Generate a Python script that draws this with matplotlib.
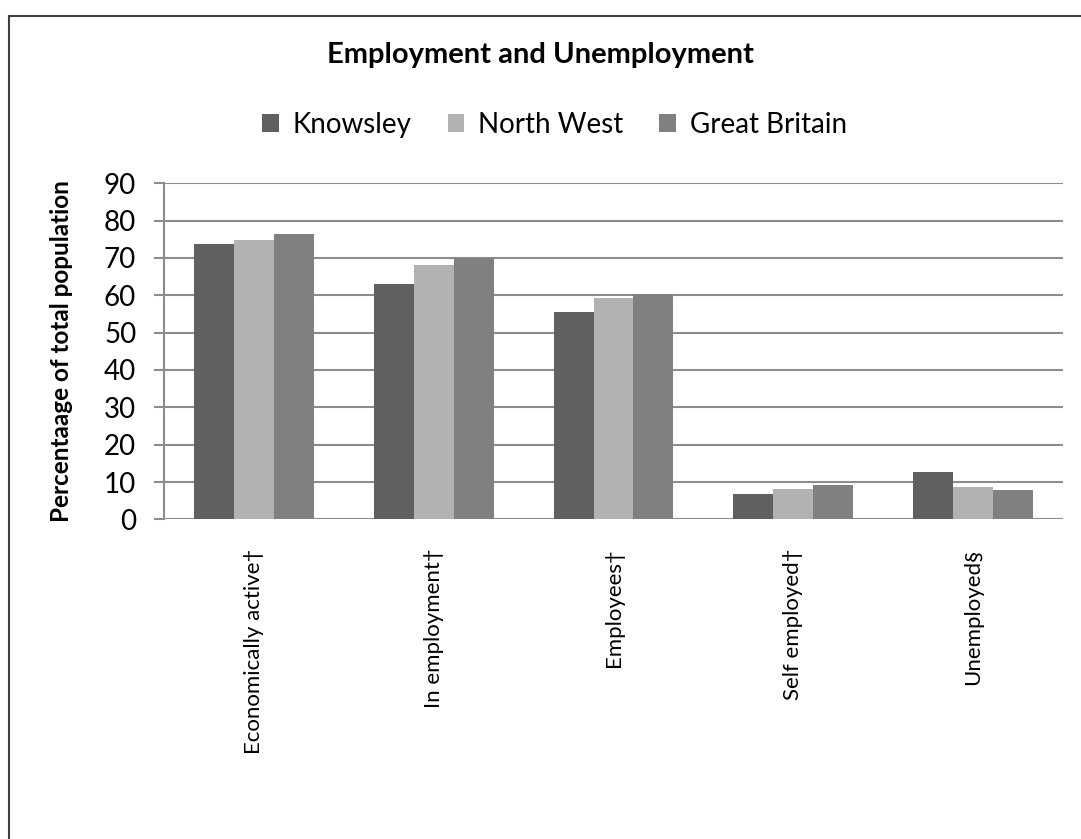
import numpy as np
import matplotlib.pyplot as plt
from matplotlib.patches import Rectangle

categories = ["Economically active†", "In employment†", "Employees†", "Self employed†", "Unemployed§"]
series_names = ["Knowsley", "North West", "Great Britain"]
knowsley = [73.8, 63.1, 55.6, 6.8, 12.6]
north_west = [74.8, 68.1, 59.3, 8.1, 8.7]
great_britain = [76.4, 70.0, 60.3, 9.2, 7.9]
colors = ["#606060", "#b2b2b2", "#808080"]

plt.rcParams['font.family'] = ['Lato', 'DejaVu Sans']

fig = plt.figure(figsize=(10.81, 8.39), dpi=100)
ax = fig.add_axes([0.1517, 0.381, 0.8317, 0.4005])

x = np.arange(len(categories))
w = 0.222
for i, (vals, name) in enumerate(zip([knowsley, north_west, great_britain], series_names)):
    ax.bar(x + (i - 1) * w, vals, width=w, color=colors[i], label=name, zorder=3)

ax.set_xlim(-0.5, len(categories) - 0.5)
ax.set_ylim(0, 90)
ax.set_yticks(range(0, 91, 10))
ax.yaxis.grid(True, color="#8c8c8c", linewidth=1.5, zorder=0)
ax.set_axisbelow(True)
for s in ["top", "right", "bottom"]:
    ax.spines[s].set_visible(False)
ax.spines["left"].set_color("#8c8c8c")
ax.spines["left"].set_linewidth(1.5)
ax.tick_params(axis="y", length=7, width=1.5, color="#8c8c8c", labelsize=20, pad=13)
ax.tick_params(axis="x", length=0, labelsize=16, pad=21)
ax.set_xticks(x)
ax.set_xticklabels(categories, rotation=90, va="top", ha="center")
ax.set_ylabel("Percentaage of total population", fontsize=17.5, fontweight="bold")
ax.yaxis.set_label_coords(-0.101, 0.5)

fig.text(0.5, 1 - 55 / 839, "Employment and Unemployment", ha="center", va="center",
         fontsize=21, fontweight="bold")
fig.legend(loc="center", bbox_to_anchor=(0.513, 1 - 125 / 839), ncol=3, frameon=False,
           fontsize=20, handlelength=0.6, handleheight=0.6, handletextpad=0.5, columnspacing=1.3)

# outer chart border
fig.patches.append(Rectangle((9 / 1081, -0.05), 1.1, 1 - 16 / 839 + 0.05,
                             transform=fig.transFigure, fill=False,
                             edgecolor="#404040", linewidth=1.5))

fig.savefig("out.png", dpi=100)
